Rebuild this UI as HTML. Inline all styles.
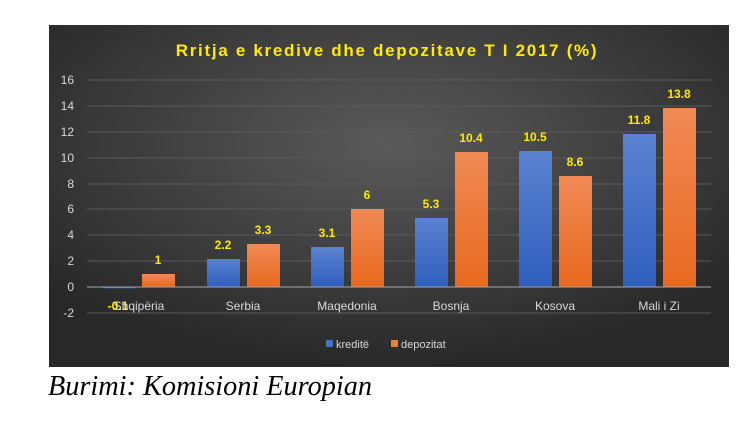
<!DOCTYPE html>
<html><head><meta charset="utf-8"><style>
body{margin:0;background:#fff;width:750px;height:437px;overflow:hidden}
</style></head><body>
<svg width="750" height="437" xmlns="http://www.w3.org/2000/svg">
<defs>
<radialGradient id="bg" cx="50%" cy="35%" r="65%">
<stop offset="0" stop-color="#5a5a5a"/><stop offset="1" stop-color="#282828"/>
</radialGradient>
<linearGradient id="bl" x1="0" y1="0" x2="0" y2="1"><stop offset="0" stop-color="#5b82d0"/><stop offset="1" stop-color="#2f5fbd"/></linearGradient>
<linearGradient id="or" x1="0" y1="0" x2="0" y2="1"><stop offset="0" stop-color="#f08a56"/><stop offset="1" stop-color="#e8691e"/></linearGradient>
</defs>
<rect x="49" y="25" width="680" height="342" fill="url(#bg)"/>
<text x="387" y="56" text-anchor="middle" font-family="Liberation Sans, sans-serif" font-weight="bold" font-size="17" fill="#ffea00" letter-spacing="1.7">Rritja e kredive dhe depozitave T I 2017 (%)</text>
<g stroke="#5a5a5a" stroke-width="1">
<line x1="87" x2="711" y1="80" y2="80"/><line x1="87" x2="711" y1="106" y2="106"/><line x1="87" x2="711" y1="132" y2="132"/><line x1="87" x2="711" y1="158" y2="158"/><line x1="87" x2="711" y1="184" y2="184"/><line x1="87" x2="711" y1="209" y2="209"/><line x1="87" x2="711" y1="235" y2="235"/><line x1="87" x2="711" y1="261" y2="261"/><line x1="87" x2="711" y1="313" y2="313"/>
</g>
<g font-family="Liberation Sans, sans-serif" font-size="12" fill="#d9d9d9" text-anchor="end">
<text x="74" y="84">16</text><text x="74" y="110">14</text><text x="74" y="136">12</text><text x="74" y="162">10</text><text x="74" y="188">8</text><text x="74" y="213">6</text><text x="74" y="239">4</text><text x="74" y="265">2</text><text x="74" y="291">0</text><text x="74" y="317">-2</text>
</g>
<g>
<rect x="102" y="287" width="33" height="1.3" fill="url(#bl)"/>
<rect x="142" y="274" width="33" height="13" fill="url(#or)"/>
<rect x="207" y="259" width="33" height="28" fill="url(#bl)"/>
<rect x="247" y="244" width="33" height="43" fill="url(#or)"/>
<rect x="311" y="247" width="33" height="40" fill="url(#bl)"/>
<rect x="351" y="209" width="33" height="78" fill="url(#or)"/>
<rect x="415" y="218" width="33" height="69" fill="url(#bl)"/>
<rect x="455" y="152" width="33" height="135" fill="url(#or)"/>
<rect x="519" y="151" width="33" height="136" fill="url(#bl)"/>
<rect x="559" y="176" width="33" height="111" fill="url(#or)"/>
<rect x="623" y="134" width="33" height="153" fill="url(#bl)"/>
<rect x="663" y="108" width="33" height="179" fill="url(#or)"/>
</g>
<line x1="87" x2="711" y1="287" y2="287" stroke="#a6a6a6" stroke-width="1"/>
<g font-family="Liberation Sans, sans-serif" font-size="12" font-weight="bold" fill="#ffea00" text-anchor="middle">
<text x="118" y="310">-0.1</text><text x="158" y="264">1</text>
<text x="223" y="249">2.2</text><text x="263" y="234">3.3</text>
<text x="327" y="237">3.1</text><text x="367" y="199">6</text>
<text x="431" y="208">5.3</text><text x="471" y="142">10.4</text>
<text x="535" y="141">10.5</text><text x="575" y="166">8.6</text>
<text x="639" y="124">11.8</text><text x="679" y="98">13.8</text>
</g>
<g font-family="Liberation Sans, sans-serif" font-size="12" fill="#d9d9d9" text-anchor="middle">
<text x="139" y="310">Shqipëria</text><text x="243" y="310">Serbia</text><text x="347" y="310">Maqedonia</text><text x="451" y="310">Bosnja</text><text x="555" y="310">Kosova</text><text x="659" y="310">Mali i Zi</text>
</g>
<rect x="326" y="340" width="7" height="7" fill="#4472c4"/>
<text x="336" y="348" font-family="Liberation Sans, sans-serif" font-size="11" fill="#d9d9d9">kreditë</text>
<rect x="391" y="340" width="7" height="7" fill="#ed7d31"/>
<text x="401" y="348" font-family="Liberation Sans, sans-serif" font-size="11" fill="#d9d9d9">depozitat</text>
<text x="48" y="395" font-family="Liberation Serif, serif" font-style="italic" font-size="28" fill="#000" textLength="324" lengthAdjust="spacingAndGlyphs">Burimi: Komisioni Europian</text>
</svg>
</body></html>
